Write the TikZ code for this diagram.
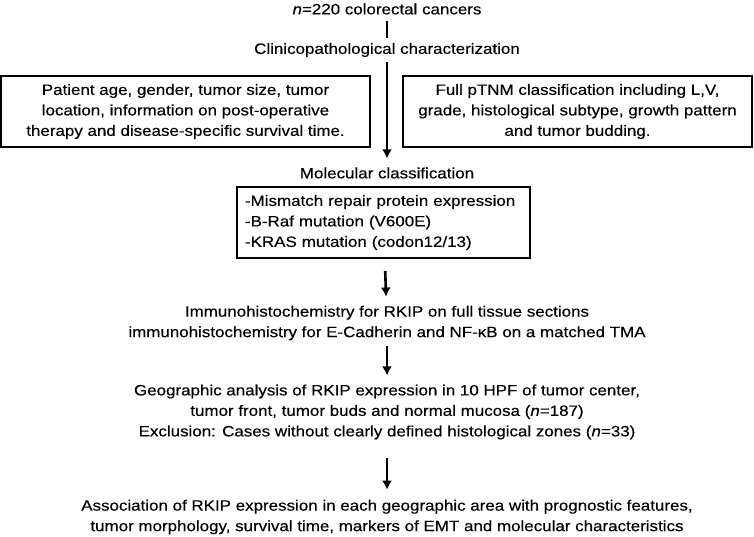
\documentclass[tikz,border=0pt]{standalone}
\usepackage{fontspec}
\setmainfont[FakeStretch=1.13, FakeBold=0.3]{Liberation Sans}
\usetikzlibrary{arrows.meta}
\begin{document}
\begin{tikzpicture}
		[
		x=1pt, y=-1pt, >={Latex[length=9pt,width=10pt]},
		font=\fontsize{15}{20.5}\selectfont,
		%Voreinstellungen
		txt/.style={align=center, inner sep=0pt},
		kasten/.style={draw, line width=1.6pt, inner sep=0pt, minimum height=71pt, align=center},
		pfeil/.style={line width=2.6pt, ->}
		]
		
		%Rahmen
		\useasboundingbox (0,0) rectangle (754,536);
		
		%Titel und Schritte
		\node[txt] (kollektiv) at (387,9) {\textit{n}=220 colorectal cancers};
		\node[txt] (klinik) at (387,50) {Clinicopathological characterization};
		\node[txt] (molekular) at (387,173) {Molecular classification};
		
		%Kästen links und rechts
		\node[kasten, minimum width=369pt] (links) at (185.5,111.5)
		{Patient age, gender, tumor size, tumor\\location, information on post-operative\\therapy and disease-specific survival time.};
		\node[kasten, minimum width=349pt] (rechts) at (577.5,111.5)
		{Full pTNM classification including L,V,\\grade, histological subtype, growth pattern\\and tumor budding.};
		
		%Kasten molekular
		\node[kasten, minimum width=293pt, align=left, text width=277pt] (marker) at (383.5,222.5)
		{-Mismatch repair protein expression\\-B-Raf mutation (V600E)\\-KRAS mutation (codon12/13)};
		
		%Weitere Schritte
		\node[txt] (ihc) at (387,323)
		{Immunohistochemistry for RKIP on full tissue sections\\immunohistochemistry for E-Cadherin and NF-κB on a matched TMA};
		\node[txt] (geo) at (387,412)
		{Geographic analysis of RKIP expression in 10 HPF of tumor center,\\tumor front, tumor buds and normal mucosa (\textit{n}=187)\\Exclusion: Cases without clearly defined histological zones (\textit{n}=33)};
		\node[txt] (assoz) at (387,517)
		{Association of RKIP expression in each geographic area with prognostic features,\\tumor morphology, survival time, markers of EMT and molecular characteristics};
		
		%Verbindungen
		\draw[line width=2.6pt, shorten <=6pt, shorten >=5pt] (kollektiv) -- (klinik);
		\draw[pfeil, shorten <=5pt, shorten >=9pt] (klinik) -- (molekular);
		\draw[pfeil, shorten <=12pt, shorten >=9pt] (marker) -- (ihc);
		\draw[pfeil, shorten <=6pt, shorten >=9pt] (ihc) -- (geo);
		\draw[pfeil, shorten <=18pt, shorten >=10pt] (geo) -- (assoz);
	\end{tikzpicture}
\end{document}
